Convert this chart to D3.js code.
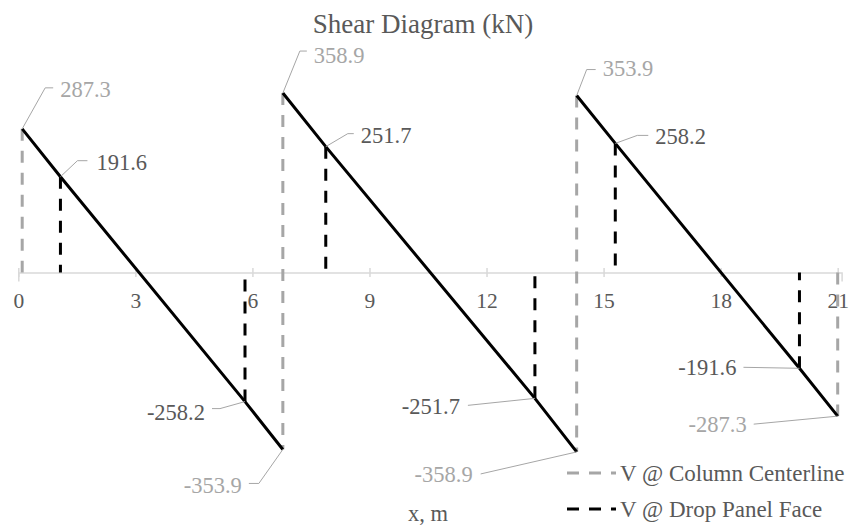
<!DOCTYPE html>
<html>
<head>
<meta charset="utf-8">
<script src="https://cdn.jsdelivr.net/npm/d3@7"></script>
<style>
  body { margin: 0; background: #fff; }
  svg text { font-family: "Liberation Serif", "Times New Roman", serif; }
</style>
</head>
<body>
<script>
/* Data */
const columnX = [0.1, 6.78, 14.31, 21.0];
const vLeftOfColumn = [0, -353.9, -358.9, -287.3];
const vRightOfColumn = [287.3, 358.9, 353.9, 0];
const faceX = [1.08, 5.81, 7.88, 13.24, 15.30, 20.02];
const faceV = [191.6, -258.2, 251.7, -251.7, 258.2, -191.6];
const xTicks = [0, 3, 6, 9, 12, 15, 18, 21];
const legendNames = ["V @ Column Centerline", "V @ Drop Panel Face"];

/* Label layout: [elbowDx, elbowDy, endDx, endDy, textDx, textDy] */
const colLabelLayout = [
  [23, -41, 31, -41, 38, -40],   // 287.3
  [-24, 34, -34, 34, -41, 36],   // -353.9
  [17, -42, 24, -42, 31, -38],   // 358.9
  [-96, 22, -96, 22, -104, 22],  // -358.9
  [10, -26, 19, -26, 26, -27],   // 353.9
  [-84, 8, -84, 8, -91, 8]       // -287.3
];
const faceLabelLayout = [
  [17, -16, 27, -16, 36, -15],
  [-25, 7, -33, 7, -40, 11],
  [22, -13, 28, -13, 35, -12],
  [-67, 7, -67, 7, -75, 8],
  [22, -8, 33, -8, 40, -7],
  [-56, -1, -56, -1, -63, -1]
];

/* Constants */
const W = 850, H = 525;
const FONT = "'Liberation Serif', 'Times New Roman', serif";
const GRAY = "#a6a6a6", TEXT = "#595959";
const DASH = "12,10";

const svg = d3.select("body").append("svg")
  .attr("width", W)
  .attr("height", H)
  .attr("font-family", FONT);

/* Scales */
const x = d3.scaleLinear().domain([0, 21.1]).range([18.3, 841.6]);
const y = d3.scaleLinear().domain([-400, 400]).range([472.5, 72.5]);

/* Title */
svg.append("text")
  .attr("x", 423)
  .attr("y", 33)
  .attr("text-anchor", "middle")
  .attr("font-family", FONT)
  .style("font-size", "27px")
  .style("fill", TEXT)
  .text("Shear Diagram (kN)");

/* Axis */
const xAxis = d3.axisBottom(x).tickValues(xTicks).tickSizeOuter(0).tickSize(9);
const gx = svg.append("g")
  .attr("transform", "translate(0," + y(0) + ")")
  .call(xAxis)
  .attr("font-family", FONT);
gx.select(".domain").attr("stroke", "#d9d9d9").attr("stroke-width", 1.5);
gx.selectAll(".tick line").attr("stroke", "#d9d9d9").attr("stroke-width", 1.5)
  .attr("y1", -4.5).attr("y2", 4.5);
gx.selectAll(".tick text")
  .attr("y", 35.5).attr("dy", null)
  .attr("font-family", FONT)
  .style("font-size", "21.5px")
  .attr("fill", TEXT);

svg.append("text")
  .attr("x", 428)
  .attr("y", 521)
  .attr("text-anchor", "middle")
  .attr("font-family", FONT)
  .style("font-size", "22.5px")
  .style("fill", TEXT)
  .text("x, m");

/* Column centerline */
svg.selectAll(".col-line")
  .data(columnX)
  .enter()
  .append("line")
  .attr("class", "col-line")
  .attr("x1", d => x(d)).attr("x2", d => x(d))
  .attr("y1", (d, i) => y(vRightOfColumn[i]))
  .attr("y2", (d, i) => y(vLeftOfColumn[i]))
  .attr("stroke", GRAY)
  .attr("stroke-width", 3)
  .attr("stroke-dasharray", DASH);

/* Drop panel face */
svg.selectAll(".face-line")
  .data(faceX)
  .enter()
  .append("line")
  .attr("class", "face-line")
  .attr("x1", d => x(d)).attr("x2", d => x(d))
  .attr("y1", (d, i) => y(faceV[i]))
  .attr("y2", y(0))
  .attr("stroke", "#000")
  .attr("stroke-width", 3)
  .attr("stroke-dasharray", DASH);

/* Shear line, one piece per span */
const spans = d3.range(columnX.length - 1).map(i => [
  [columnX[i], vRightOfColumn[i]],
  [faceX[2 * i], faceV[2 * i]],
  [faceX[2 * i + 1], faceV[2 * i + 1]],
  [columnX[i + 1], vLeftOfColumn[i + 1]]
]);
const line = d3.line().x(d => x(d[0])).y(d => y(d[1]));
svg.selectAll(".shear")
  .data(spans)
  .enter()
  .append("path")
  .attr("class", "shear")
  .attr("d", line)
  .attr("fill", "none")
  .attr("stroke", "#000")
  .attr("stroke-width", 3);

/* Labels */
const colPoints = [];
columnX.forEach((cx, i) => {
  if (vRightOfColumn[i] !== 0) colPoints.push([cx, vRightOfColumn[i]]);
  if (vLeftOfColumn[i] !== 0) colPoints.push([cx, vLeftOfColumn[i]]);
});
// reorder to: 287.3, -353.9, 358.9, -358.9, 353.9, -287.3
colPoints.sort((a, b) => a[0] - b[0] || a[1] - b[1]);
const facePoints = faceX.map((fx, i) => [fx, faceV[i]]);

function drawLabels(points, layout, color) {
  points.forEach((p, i) => {
    const px = x(p[0]), py = y(p[1]);
    const L = layout[i];
    svg.append("polyline")
      .attr("points", [[px, py], [px + L[0], py + L[1]], [px + L[2], py + L[3]]].join(" "))
      .attr("fill", "none")
      .attr("stroke", GRAY)
      .attr("stroke-width", 1);
    svg.append("text")
      .attr("x", px + L[4])
      .attr("y", py + L[5])
      .attr("dy", "0.35em")
      .attr("text-anchor", L[4] > 0 ? "start" : "end")
      .attr("font-family", FONT)
      .style("font-size", "22.5px")
      .style("fill", color)
      .text(p[1].toFixed(1));
  });
}
drawLabels(colPoints, colLabelLayout, GRAY);
drawLabels(facePoints, faceLabelLayout, TEXT);

/* Legend */
const legend = svg.selectAll(".legend")
  .data(legendNames)
  .enter()
  .append("g")
  .attr("class", "legend")
  .attr("transform", (d, i) => "translate(567," + (473 + i * 36) + ")");
legend.append("line")
  .attr("x1", 0).attr("x2", 49)
  .attr("stroke", (d, i) => i === 0 ? GRAY : "#000")
  .attr("stroke-width", 3)
  .attr("stroke-dasharray", DASH);
legend.append("text")
  .attr("x", 53)
  .attr("dy", "0.35em")
  .attr("font-family", FONT)
  .style("font-size", "23px")
  .style("fill", TEXT)
  .text(d => d);
</script>
</body>
</html>
